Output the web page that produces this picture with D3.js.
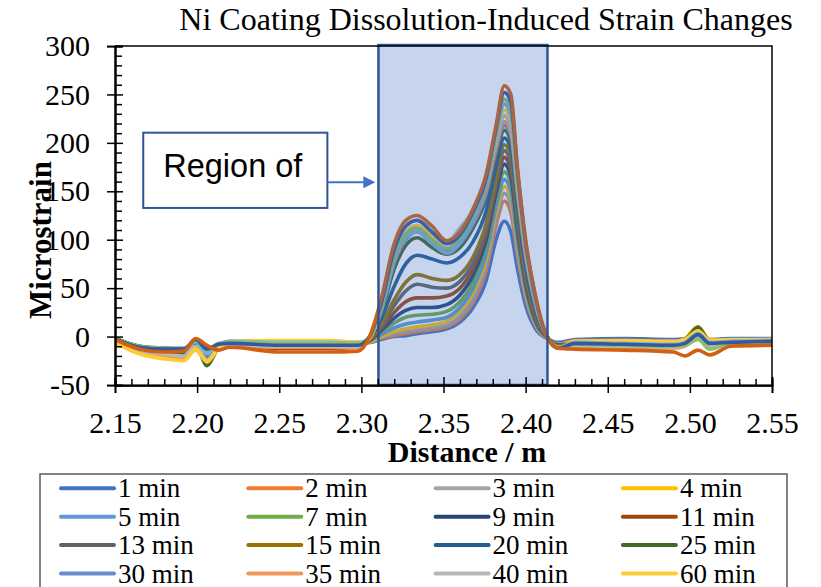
<!DOCTYPE html>
<html>
<head>
<meta charset="utf-8">
<title>Ni Coating Dissolution-Induced Strain Changes</title>
<script src="https://d3js.org/d3.v7.min.js"></script>
<style>
  body { margin: 0; background: #fff; }
</style>
</head>
<body>
<div id="my_dataviz"></div>
<script>
// distance along the fibre (m), shared by every series
var distance = [
  2.15, 2.165, 2.18, 2.192, 2.199, 2.206, 2.213, 2.22, 2.25, 2.28, 2.298,
  2.305, 2.312, 2.32, 2.327, 2.334, 2.343, 2.352, 2.36, 2.368, 2.376, 2.382, 2.387, 2.391, 2.395, 2.40, 2.406, 2.413, 2.42,
  2.43, 2.46, 2.49, 2.497, 2.505, 2.512, 2.525, 2.55
];

// legend entries that are visible in the picture (the legend runs off the bottom)
var seriesNames = ["1 min", "2 min", "3 min", "4 min", "5 min", "7 min", "9 min", "11 min",
                   "13 min", "15 min", "20 min", "25 min", "30 min", "35 min", "40 min", "60 min"];

var seriesColors = ["#4472C4", "#ED7D31", "#A5A5A5", "#FFC000", "#5B9BD5", "#70AD47", "#264478", "#9E480E",
                    "#636363", "#997300", "#255E91", "#43682B", "#698ED0", "#F1975A", "#B7B7B7", "#FFCD33",
                    "#7CAFDD", "#8CC168", "#335AA1", "#D26012"];

// microstrain, one array per time step
var min1   = [-2, -10, -12, -12, -7, -12, -8, -5, -6, -5, -6,  -6, -3, 0, 1, 3, 5, 8, 15, 30, 58, 100, 119, 108, 70, 32, 8, -2, -6,  -3, -2, -3, -2, 3, -3, -2, -2];
var min2   = [-4, -14, -17, -16, -9, -16, -11, -9, -10, -9, -9,  -6, -2, 1, 3, 5, 7, 10, 18, 35, 68, 115, 140, 128, 84, 40, 11, -2, -8,  -4, -4, -5, -4, 2, -5, -4, -3];
var min3   = [-6, -16, -20, -21, -11, -22, -12, -10, -12, -11, -10,  -5, -1, 3, 5, 7, 9, 12, 21, 39, 74, 122, 148, 136, 90, 43, 12, -2, -8,  -8, -8, -9, -8, -2, -8, -6, -5];
var min4   = [-5, -17, -21, -24, -14, -24, -10, -7, -6, -5, -7,  -5, 0, 5, 8, 10, 12, 16, 26, 45, 80, 128, 155, 143, 95, 46, 13, -2, -8,  -5, -5, -6, -2, 9, -3, -4, -3];
var min5   = [-3, -13, -16, -18, -8, -18, -9, -6, -8, -7, -8,  -5, 2, 9, 13, 15, 17, 20, 30, 50, 86, 134, 162, 150, 100, 49, 14, -1, -8,  -7, -7, -8, -6, 4, -6, -5, -4];
var min7   = [-2, -11, -14, -15, -6, -22, -10, -8, -9, -8, -9,  -4, 4, 14, 20, 22, 23, 26, 36, 56, 93, 141, 170, 158, 106, 52, 15, -1, -9,  -9, -9, -10, -9, -1, -12, -7, -6];
var min9   = [-3, -12, -15, -16, -7, -17, -10, -9, -11, -10, -10,  -4, 6, 19, 27, 30, 30, 33, 43, 63, 100, 148, 178, 165, 111, 55, 17, -1, -9,  -8, -8, -9, -7, 5, -6, -5, -4];
var min11  = [-4, -13, -15, -16, -6, -18, -11, -10, -12, -12, -11,  -4, 8, 25, 36, 40, 40, 42, 50, 70, 107, 154, 185, 172, 116, 58, 18, -1, -10,  -10, -10, -11, -9, 3, -8, -6, -5];
var min13  = [-5, -14, -16, -17, -8, -20, -10, -9, -11, -10, -10,  -3, 10, 32, 47, 54, 51, 50, 57, 76, 112, 159, 192, 179, 122, 62, 20, 0, -10,  -9, -9, -10, -8, 6, -7, -6, -5];
var min15  = [-3, -12, -14, -15, -6, -22, -9, -7, -8, -7, -8,  -3, 12, 38, 56, 64, 60, 58, 64, 82, 117, 164, 198, 185, 127, 65, 22, 0, -10,  -6, -6, -7, -3, 10, -4, -4, -3];
var min20  = [-2, -10, -12, -13, -4, -15, -8, -6, -8, -9, -8,  -2, 18, 52, 75, 84, 80, 76, 82, 98, 130, 175, 205, 193, 135, 72, 26, 0, -11,  -7, -7, -8, -6, 7, -6, -5, -4];
var min25  = [-4, -13, -15, -17, -9, -30, -12, -8, -9, -9, -10,  -2, 24, 70, 94, 102, 92, 85, 92, 112, 143, 186, 213, 201, 142, 78, 30, 0, -11,  -8, -8, -9, -6, 9, -5, -5, -4];
var min30  = [-3, -11, -13, -14, -5, -19, -10, -7, -8, -8, -8,  -2, 26, 76, 100, 108, 97, 89, 96, 116, 148, 192, 218, 207, 147, 82, 32, 0, -11,  -6, -6, -7, -5, 5, -5, -4, -4];
var min35  = [-6, -17, -20, -22, -12, -25, -13, -10, -11, -11, -11,  -2, 27, 78, 102, 110, 99, 91, 98, 119, 151, 196, 222, 211, 151, 85, 34, 0, -11,  -11, -11, -12, -10, 0, -10, -7, -6];
var min40  = [-5, -15, -18, -20, -10, -24, -12, -9, -10, -10, -10,  -2, 28, 81, 105, 113, 103, 97, 112, 130, 160, 200, 228, 216, 155, 88, 35, 0, -11,  -10, -10, -11, -9, -2, -9, -6, -5];
var min60  = [-6, -18, -23, -25, -13, -26, -12, -5, -4, -4, -6,  -1, 30, 84, 108, 115, 104, 96, 104, 126, 157, 205, 234, 222, 160, 91, 37, 0, -12,  -5, -4, -5, -3, 6, -4, -3, -3];
// later time steps whose legend rows fall below the picture
var late1  = [-3, -12, -14, -15, -5, -17, -8, -5, -6, -6, -7,  -1, 28, 80, 102, 108, 96, 86, 96, 120, 156, 208, 240, 228, 164, 93, 38, 0, -12,  -6, -7, -8, -6, 3, -6, -5, -4];
var late2  = [-2, -10, -12, -13, -4, -14, -7, -6, -7, -7, -7,  -1, 30, 84, 106, 112, 100, 91, 101, 125, 160, 212, 245, 234, 168, 95, 39, 0, -12,  -8, -9, -10, -9, -3, -13, -7, -6];
var late3  = [-2, -11, -13, -13, -3, -13, -8, -7, -9, -9, -9,  0, 34, 90, 114, 120, 108, 96, 105, 129, 164, 215, 252, 242, 172, 98, 41, 0, -12,  -7, -8, -9, -7, 2, -7, -6, -5];
var late4  = [-3, -13, -16, -15, -2, -9, -14, -11, -16, -16, -15,  0, 38, 96, 120, 125, 114, 99, 108, 132, 168, 218, 259, 250, 175, 100, 42, 0, -12,  -13, -14, -16, -20, -14, -19, -10, -9];

var strainSeries = [min1, min2, min3, min4, min5, min7, min9, min11, min13, min15, min20,
                    min25, min30, min35, min40, min60, late1, late2, late3, late4];

// axis ticks
var xTicks = [2.15, 2.20, 2.25, 2.30, 2.35, 2.40, 2.45, 2.50, 2.55];
var yTicks = [-50, 0, 50, 100, 150, 200, 250, 300];

// highlighted region and its callout (data units)
var regionX = [2.3104, 2.4133];
var regionY = [-50, 301];
var calloutX = [2.1672, 2.2793];
var calloutY = [210.5, 132.8];
var arrowY = 159.3;
var arrowTipX = 2.3085;

// ---------------------------------------------------------------
var W = 821, H = 587;
var margin = {top: 46, right: 49, bottom: 202, left: 115};
var width = W - margin.left - margin.right,
    height = H - margin.top - margin.bottom;

var svg = d3.select("#my_dataviz")
  .append("svg")
    .attr("width", W)
    .attr("height", H)
    .style("display", "block");

var g = svg.append("g")
    .attr("transform", "translate(" + margin.left + "," + margin.top + ")");

var x = d3.scaleLinear().domain([2.15, 2.55]).range([0, width]);
var y = d3.scaleLinear().domain([-50, 300]).range([height, 0]);

var serif = "'Liberation Serif', 'Times New Roman', serif";

// title
svg.append("text")
  .attr("x", 486)
  .attr("y", 30)
  .attr("text-anchor", "middle")
  .style("font-family", serif)
  .style("font-size", "32px")
  .text("Ni Coating Dissolution-Induced Strain Changes");

// clip the lines to the plot frame
g.append("clipPath").attr("id", "plotclip")
  .append("rect").attr("x", 0).attr("y", 0).attr("width", width).attr("height", height);

var line = d3.line()
  .x(function(d, i) { return x(distance[i]); })
  .y(function(d) { return y(d); })
  .curve(d3.curveMonotoneX);

g.append("g").attr("clip-path", "url(#plotclip)")
  .selectAll("path")
  .data(strainSeries)
  .enter()
  .append("path")
    .attr("d", line)
    .attr("fill", "none")
    .attr("stroke", function(d, i) { return seriesColors[i]; })
    .attr("stroke-width", 3.6)
    .attr("stroke-linejoin", "round")
    .attr("stroke-linecap", "round");

// shaded region laid over the curves
g.append("rect")
  .attr("x", x(regionX[0]))
  .attr("y", y(regionY[1]))
  .attr("width", x(regionX[1]) - x(regionX[0]))
  .attr("height", y(regionY[0]) - y(regionY[1]))
  .attr("fill", "#4472C4")
  .attr("fill-opacity", 0.3)
  .attr("stroke", "#2F5597")
  .attr("stroke-width", 2.5);

// callout box + arrow
g.append("rect")
  .attr("x", x(calloutX[0]))
  .attr("y", y(calloutY[0]))
  .attr("width", x(calloutX[1]) - x(calloutX[0]))
  .attr("height", y(calloutY[1]) - y(calloutY[0]))
  .attr("fill", "#fff")
  .attr("stroke", "#2F5597")
  .attr("stroke-width", 2);

g.append("text")
  .attr("x", x(calloutX[0]) + 20)
  .attr("y", y(calloutY[0]) + 44)
  .style("font-family", "'Liberation Sans', Arial, sans-serif")
  .style("font-size", "32.5px")
  .text("Region of");

var ay = y(arrowY), tip = x(arrowTipX);
g.append("line")
  .attr("x1", x(calloutX[1])).attr("x2", tip - 10)
  .attr("y1", ay).attr("y2", ay)
  .attr("stroke", "#4472C4")
  .attr("stroke-width", 2);
g.append("path")
  .attr("d", "M" + tip + "," + ay + "L" + (tip - 12) + "," + (ay - 6) + "L" + (tip - 12) + "," + (ay + 6) + "Z")
  .attr("fill", "#4472C4");

// frame: top and right edges
g.append("path")
  .attr("d", "M0,0H" + width + "V" + height)
  .attr("fill", "none")
  .attr("stroke", "#000")
  .attr("stroke-width", 1.5);

// helper for axis styling
function styleAxis(sel) {
  sel.selectAll(".domain").attr("stroke", "#000").attr("stroke-width", 1.75);
  sel.selectAll(".tick line").attr("stroke", "#000").attr("stroke-width", 1.5);
  sel.selectAll("text")
    .style("font-family", serif)
    .style("font-size", "30px")
    .attr("fill", "#000");
}

var yMinor = d3.range(-50, 301, 10).filter(function(v) { return v % 50 !== 0; });
var xMinor = d3.range(0, 41).map(function(i) { return +(2.15 + i * 0.01).toFixed(2); })
  .filter(function(v) { return xTicks.indexOf(v) < 0; });

// y axis: minor inward, major crossing
g.append("g").call(d3.axisLeft(y).tickValues(yMinor).tickSize(-7).tickFormat("")).call(styleAxis);
g.append("g").call(d3.axisLeft(y).tickValues(yTicks).tickSize(-8).tickFormat("")).call(styleAxis);
g.append("g")
  .call(d3.axisLeft(y).tickValues(yTicks).tickSize(8).tickPadding(17)
    .tickFormat(function(d) { return String(d); }))
  .call(styleAxis);

// x axis
var xa = "translate(0," + height + ")";
g.append("g").attr("transform", xa)
  .call(d3.axisBottom(x).tickValues(xMinor).tickSize(-6).tickFormat("")).call(styleAxis);
g.append("g").attr("transform", xa)
  .call(d3.axisBottom(x).tickValues(xTicks).tickSize(-8).tickFormat("")).call(styleAxis);
g.append("g").attr("transform", xa)
  .call(d3.axisBottom(x).tickValues(xTicks).tickSize(8).tickPadding(19)
    .tickFormat(function(d) { return d.toFixed(2); }))
  .call(styleAxis);

// axis titles
svg.append("text")
  .attr("x", 467)
  .attr("y", 462)
  .attr("text-anchor", "middle")
  .style("font-family", serif)
  .style("font-size", "30px")
  .style("font-weight", "bold")
  .text("Distance / m");

svg.append("text")
  .attr("transform", "translate(51,240) rotate(-90)")
  .attr("text-anchor", "middle")
  .style("font-family", serif)
  .style("font-size", "31px")
  .style("font-weight", "bold")
  .text("Microstrain");

// legend (4 columns, box runs past the bottom of the picture)
var legend = svg.append("g");
legend.append("rect")
  .attr("x", 40).attr("y", 474)
  .attr("width", 747).attr("height", 160)
  .attr("fill", "#fff")
  .attr("stroke", "#595959")
  .attr("stroke-width", 1.5);

var item = legend.selectAll("g.item")
  .data(seriesNames)
  .enter()
  .append("g")
    .attr("class", "item")
    .attr("transform", function(d, i) {
      return "translate(" + (61 + (i % 4) * 187.3) + "," + (488.3 + Math.floor(i / 4) * 28.4) + ")";
    });

item.append("line")
  .attr("x1", 0).attr("x2", 53)
  .attr("stroke", function(d, i) { return seriesColors[i]; })
  .attr("stroke-width", 4)
  .attr("stroke-linecap", "round");

item.append("text")
  .attr("x", 57)
  .attr("dy", "0.34em")
  .style("font-family", serif)
  .style("font-size", "27px")
  .text(function(d) { return d; });
</script>
</body>
</html>
